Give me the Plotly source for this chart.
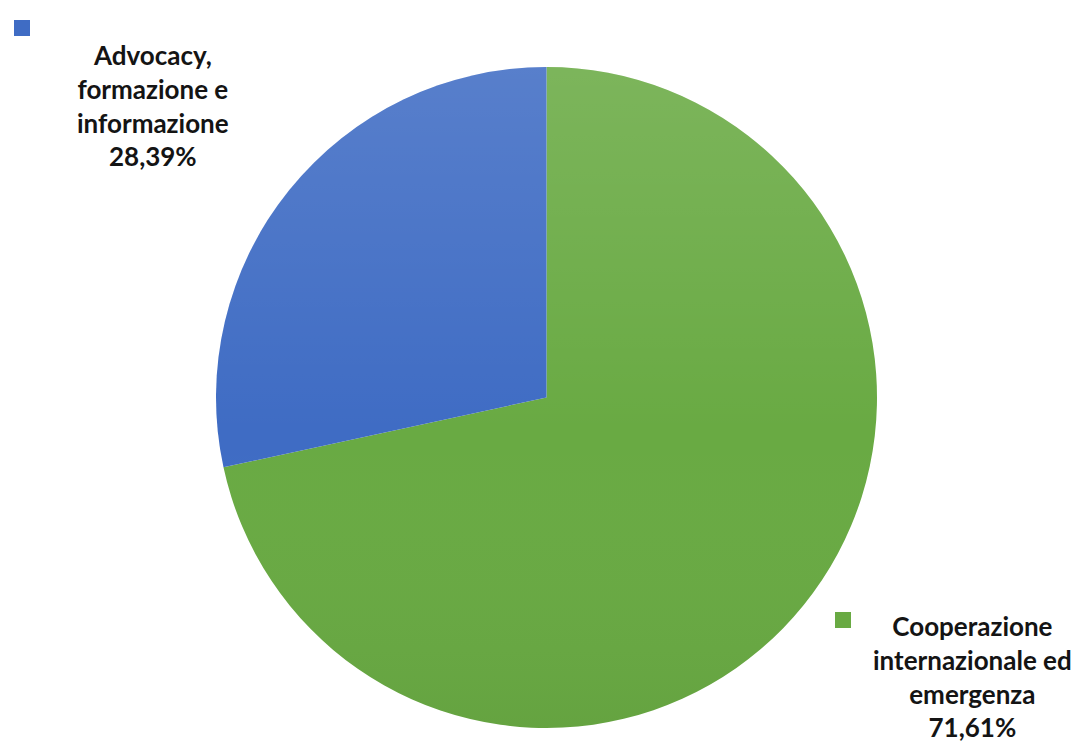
import base64
import plotly.graph_objects as go

# Share of activities by area (percent)
categories = ["Cooperazione internazionale ed emergenza", "Advocacy, formazione e informazione"]
label_lines = [["Cooperazione", "internazionale ed", "emergenza"],
               ["Advocacy,", "formazione e", "informazione"]]
values = [71.61, 28.39]
colors = ["#69aa43", "#3f6cc4"]

W, H = 1081, 742

fig = go.Figure()
fig.add_trace(go.Pie(
    labels=categories,
    values=values,
    sort=False,
    direction="clockwise",
    rotation=0,
    marker=dict(colors=colors, line=dict(width=0)),
    textinfo="none",
    hoverinfo="label+percent",
    showlegend=False,
    domain=dict(x=[216 / W, 877 / W], y=[14 / H, 675 / H]),
))

# soft vertical shading over the pie (lighter at the top, darker at the bottom)
svg = (
    '<svg xmlns="http://www.w3.org/2000/svg" width="200" height="200" viewBox="0 0 200 200">'
    '<defs><linearGradient id="g" x1="0" y1="0" x2="0" y2="1">'
    '<stop offset="0" stop-color="#ffffff" stop-opacity="0.13"/>'
    '<stop offset="0.55" stop-color="#ffffff" stop-opacity="0"/>'
    '<stop offset="1" stop-color="#000000" stop-opacity="0.04"/>'
    '</linearGradient></defs>'
    '<circle cx="100" cy="100" r="100" fill="url(#g)"/></svg>'
)
src = "data:image/svg+xml;base64," + base64.b64encode(svg.encode()).decode()
fig.add_layout_image(dict(
    source=src, xref="paper", yref="paper",
    x=216 / W, y=675 / H, sizex=661 / W, sizey=661 / H,
    xanchor="left", yanchor="top", sizing="stretch", layer="above",
))


def pct(v):
    return f"{v:.2f}".replace(".", ",") + "%"


# legend-style labels: small coloured square + bold category text with percentage
label_pos = [(972 / W, 1 - 676 / H), (153 / W, 1 - 106 / H)]
square_pos = [(843, 620), (22, 28)]
for i in range(len(categories)):
    text = "<br>".join(label_lines[i] + [pct(values[i])])
    fig.add_annotation(
        x=label_pos[i][0], y=label_pos[i][1], xref="paper", yref="paper",
        text=f"<b>{text}</b>", showarrow=False, align="center",
        xanchor="center", yanchor="middle",
        font=dict(family="Lato", size=26, color="#141414"),
    )
    cx, cy = square_pos[i]
    fig.add_shape(
        type="rect", xref="paper", yref="paper",
        x0=(cx - 8) / W, x1=(cx + 8) / W, y0=1 - (cy + 8) / H, y1=1 - (cy - 8) / H,
        fillcolor=colors[i], line=dict(width=0),
    )

fig.update_layout(
    width=W, height=H,
    margin=dict(l=0, r=0, t=0, b=0),
    paper_bgcolor="white", plot_bgcolor="white",
)

fig.write_html("out.html")
